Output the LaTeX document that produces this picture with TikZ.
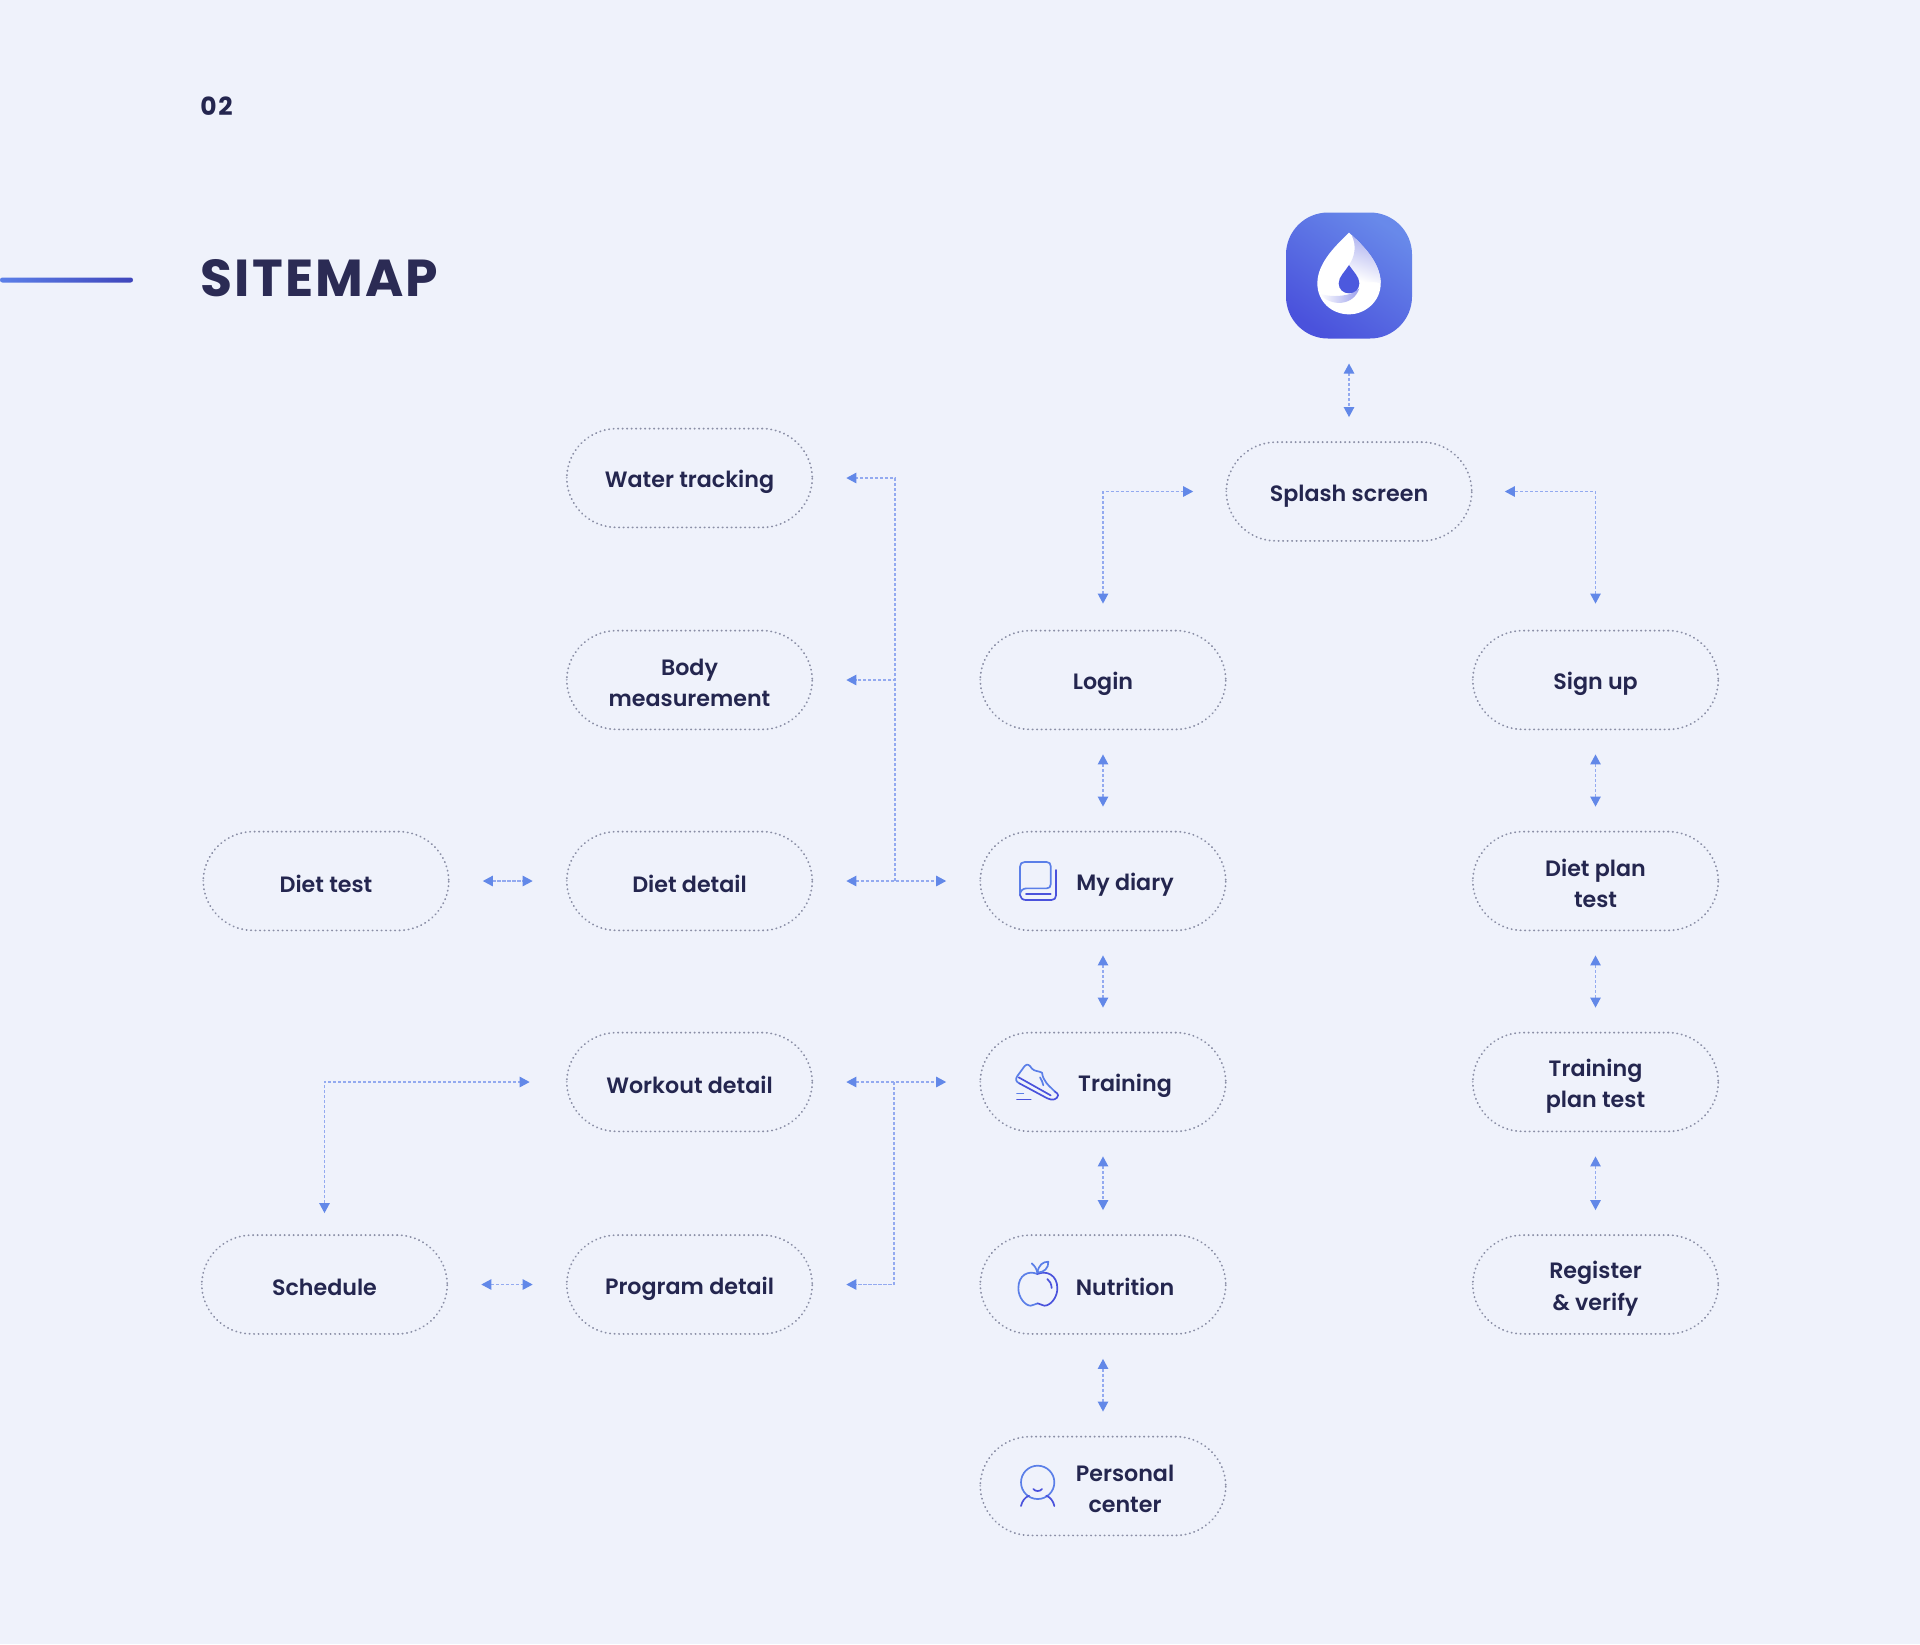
\documentclass[tikz,border=0pt]{standalone}
\usepackage{fontspec}
\setmainfont{Poppins}[UprightFont=* SemiBold]
\newfontfamily\boldface{Poppins}[UprightFont=* Bold]
\usetikzlibrary{arrows.meta}
\definecolor{bgc}{HTML}{EFF2FB}
\definecolor{ink}{HTML}{24264F}
\definecolor{titleink}{HTML}{2B2B54}
\definecolor{dotc}{HTML}{8B8FA6}
\definecolor{linkc}{HTML}{93AAF0}
\definecolor{tipc}{HTML}{6288E8}
\definecolor{icona}{HTML}{5B7FE8}
\definecolor{iconb}{HTML}{4A52DC}
\newcommand{\pillstrut}{\rule[-1.45pt]{0pt}{14.25pt}}
\tikzset{
  x=0.5pt,y=-0.5pt,
  pill/.style={draw=dotc,line width=0.9pt,line cap=round,dash pattern=on 0.2pt off 2.05pt,
    rounded corners=25pt,minimum width=122.8pt,minimum height=49.4pt,inner sep=0pt,outer sep=0pt,
    text=ink,align=center,font=\fontsize{11.1pt}{15.7pt}\selectfont,
    execute at begin node=\pillstrut,execute at end node=\pillstrut},
  label/.style={text=ink,align=center,inner sep=0pt,font=\fontsize{11.1pt}{15.7pt}\selectfont,
    execute at begin node=\pillstrut,execute at end node=\pillstrut},
  link/.style={draw=linkc,line width=0.65pt,dash pattern=on 1.6pt off 0.9pt,
    {Triangle[length=5pt,width=5.2pt,fill=tipc,color=tipc]}-{Triangle[length=5pt,width=5.2pt,fill=tipc,color=tipc]}},
  branch/.style={draw=linkc,line width=0.65pt,dash pattern=on 1.6pt off 0.9pt,
    -{Triangle[length=5pt,width=5.2pt,fill=tipc,color=tipc]}},
  linkv/.style={link,shorten <=12.5pt,shorten >=12.5pt},
  linkh/.style={link,shorten <=17pt,shorten >=17pt},
  iconline/.style={line width=0.85pt,line cap=round,line join=round},
}
\begin{document}
\begin{tikzpicture}
\fill[bgc] (0,0) rectangle (1920,1644);
\useasboundingbox (0,0) rectangle (1920,1644);

% heading
\node[anchor=base west,inner sep=0pt,text=ink,font=\boldface\fontsize{12.5pt}{14pt}\selectfont] (num) at (200,115) {0\kern0.8pt 2};
\node[anchor=base west,inner sep=0pt,text=titleink,font=\boldface\fontsize{26pt}{30pt}\selectfont] (title) at (200,296) {S\kern1.1pt I\kern1.1pt T\kern1.1pt E\kern1.1pt M\kern1.1pt A\kern1.1pt P};
\shade[left color=icona,right color=iconb!85!black,rounded corners=1.2pt] (0,277.5) rectangle (133,282.5);

% app icon
\node[minimum size=63pt,inner sep=0pt,outer sep=0pt,rounded corners=21pt,
  top color=icona!92!white,bottom color=iconb,shading angle=-35] (app) at (1349,275.5) {};
\begin{scope}[shift={(1240,190)},x=0.16667pt,y=-0.16667pt]
  \fill[white] (327,128) .. controls (350,150) and (422,210) .. (422,280)
     .. controls (422,335) and (375,373) .. (327,373)
     .. controls (275,373) and (232,335) .. (232,280)
     .. controls (232,215) and (295,160) .. (327,128) -- cycle;
  \shade[left color=iconb!45!white,right color=white,shading angle=-20]
     (335,136) .. controls (355,155) and (422,210) .. (422,280)
     .. controls (410,275) and (380,275) .. (358,280)
     .. controls (358,262) and (342,245) .. (327,225)
     .. controls (345,200) and (350,165) .. (335,136) -- cycle;
  \shade[left color=white,right color=iconb!55!white]
     (240,312) .. controls (270,350) and (340,350) .. (358,295)
     -- (330,312) .. controls (300,320) and (270,320) .. (240,312) -- cycle;
  \fill[iconb!85!icona] (327,225) .. controls (340,245) and (358,260) .. (358,280)
     .. controls (358,298) and (344,310) .. (327,310)
     .. controls (310,310) and (296,298) .. (296,280)
     .. controls (296,260) and (315,245) .. (327,225) -- cycle;
\end{scope}

% pills
\node[pill] (splash) at (1349,491.5) {Splash screen};
\node[pill] (water) at (689.5,478) {Water tracking};
\node[pill] (body) at (689.5,680) {};
\node[label] (bodytext) at (689.5,684) {Body\\measurement};
\node[pill] (login) at (1103,680) {Login};
\node[pill] (signup) at (1595.5,680) {Sign up};
\node[pill] (diettest) at (326,881) {Diet test};
\node[pill] (dietdetail) at (689.5,881) {Diet detail};
\node[pill] (diary) at (1103,881) {};
\node[label] (diarytext) at (1125,881) {My diary};
\node[pill] (dietplan) at (1595.5,881) {};
\node[label] (dietplantext) at (1595.5,885) {Diet plan\\test};
\node[pill] (workout) at (689.5,1082) {Workout detail};
\node[pill] (training) at (1103,1082) {};
\node[label] (trainingtext) at (1125,1082) {Training};
\node[pill] (trainplan) at (1595.5,1082) {};
\node[label] (trainplantext) at (1595.5,1086) {Training\\plan test};
\node[pill] (schedule) at (324.5,1284.5) {Schedule};
\node[pill] (program) at (689.5,1284.5) {Program detail};
\node[pill] (nutrition) at (1103,1284.5) {};
\node[label] (nutritiontext) at (1125,1284.5) {Nutrition};
\node[pill] (register) at (1595.5,1284.5) {};
\node[label] (registertext) at (1595.5,1288.5) {Register\\\& verify};
\node[pill] (personal) at (1103,1486) {};
\node[label] (personaltext) at (1125,1490) {Personal\\center};

% connectors
\coordinate (jd) at (895,881);
\coordinate (jw) at (894,1082);
\draw[linkv] (app.south) -- (splash.north);
\draw[link,shorten <=13.5pt,shorten >=16.5pt] (login.north) |- (splash.west);
\draw[link,shorten <=13.5pt,shorten >=16.5pt] (signup.north) |- (splash.east);
\draw[linkv] (login.south) -- (diary.north);
\draw[linkv] (diary.south) -- (training.north);
\draw[linkv] (training.south) -- (nutrition.north);
\draw[linkv] (nutrition.south) -- (personal.north);
\draw[linkv] (signup.south) -- (dietplan.north);
\draw[linkv] (dietplan.south) -- (trainplan.north);
\draw[linkv] (trainplan.south) -- (register.north);
\draw[linkh] (diettest.east) -- (dietdetail.west);
\draw[linkh] (schedule.east) -- (program.west);
\draw[linkh] (dietdetail.east) -- (diary.west);
\draw[linkh] (workout.east) -- (training.west);
\draw[branch,shorten >=17pt] (jd) |- (water.east);
\draw[branch,shorten >=17pt] (jd) |- (body.east);
\draw[branch,shorten >=17pt] (jw) |- (program.east);
\draw[link,shorten <=11pt,shorten >=18.5pt] (schedule.north) |- (workout.west);

% book icon
\begin{scope}[shift={(960,820)},x=0.16667pt,y=-0.16667pt,iconline]
  \draw[icona] (180,225) -- (180,140) .. controls (180,131) and (185,126) .. (194,126) -- (260,126)
     .. controls (268,126) and (272,131) .. (272,138) -- (272,193) .. controls (272,201) and (268,205) .. (260,205)
     -- (200,205) .. controls (188,205) and (180,213) .. (180,225);
  \draw[iconb] (180,225) .. controls (180,234) and (188,240) .. (198,240) -- (274,240)
     .. controls (283,240) and (288,235) .. (288,226) -- (288,150);
  \draw[iconb] (198,222) -- (272,222);
\end{scope}

% shoe icon
\begin{scope}[shift={(960,820)},x=0.16667pt,y=-0.16667pt,iconline]
  \draw[icona] (285,815) .. controls (265,795) and (250,785) .. (246,758) .. controls (235,752) and (225,755) .. (216,746)
     .. controls (208,734) and (202,730) .. (194,738) -- (172,768) .. controls (165,778) and (168,785) .. (178,790);
  \draw[iconb] (178,790) -- (262,835) .. controls (278,843) and (292,838) .. (294,826) .. controls (295,822) and (290,818) .. (285,815);
  \draw[iconb] (176,772) -- (272,826);
  \draw[icona] (240,772) .. controls (245,780) and (248,787) .. (250,796);
  \draw[icona] (171,820) -- (190,820);
  \draw[iconb] (171,838) -- (212,838);
\end{scope}

% apple icon
\begin{scope}[shift={(960,1220)},x=0.16667pt,y=-0.16667pt,iconline]
  \draw[icona] (232,162) .. controls (205,150) and (175,165) .. (175,205)
     .. controls (175,232) and (195,257) .. (212,257) .. controls (222,257) and (225,250) .. (233,250);
  \draw[iconb] (233,250) .. controls (240,250) and (245,257) .. (253,257)
     .. controls (272,257) and (292,232) .. (292,205) .. controls (292,165) and (260,150) .. (232,162);
  \draw[icona] (232,158) .. controls (236,135) and (248,125) .. (265,125) .. controls (266,145) and (252,157) .. (232,158);
  \draw[icona] (215,130) .. controls (224,137) and (230,147) .. (232,158);
  \draw[iconb] (262,177) .. controls (270,182) and (274,192) .. (275,204);
\end{scope}

% person icon
\begin{scope}[shift={(960,1220)},x=0.16667pt,y=-0.16667pt,iconline]
  \draw[icona] (233,787) circle[radius=50];
  \draw[iconb] (220,807) .. controls (226,815) and (240,815) .. (246,807);
  \draw[iconb] (183,858) .. controls (186,843) and (195,832) .. (207,827);
  \draw[iconb] (283,858) .. controls (280,843) and (271,832) .. (259,827);
\end{scope}
\end{tikzpicture}
\end{document}
